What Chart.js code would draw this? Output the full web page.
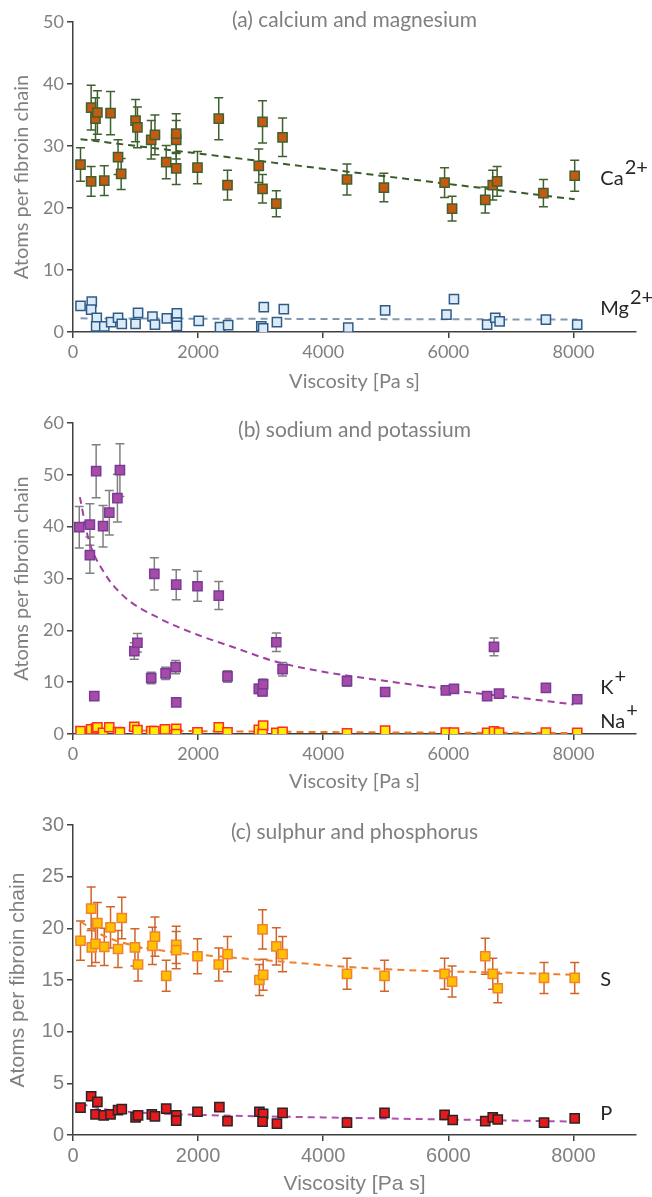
<!DOCTYPE html>
<html>
<head>
<meta charset="utf-8">
<script src="https://cdn.jsdelivr.net/npm/chart.js@4.4.1/dist/chart.umd.min.js"></script>
<style>
  body { margin: 0; background: #fff; }
  .panel { position: absolute; left: 0; }
</style>
</head>
<body>
<div class="panel" style="top:0"><canvas id="chartA" width="652" height="400"></canvas></div>
<div class="panel" style="top:400px"><canvas id="chartB" width="652" height="400"></canvas></div>
<div class="panel" style="top:800px"><canvas id="chartC" width="652" height="397"></canvas></div>
<script>
// ---- data ----
const xTicks = [0, 2000, 4000, 6000, 8000];
const yTicksA = [0, 10, 20, 30, 40, 50];
const yTicksB = [0, 10, 20, 30, 40, 50, 60];
const yTicksC = [0, 5, 10, 15, 20, 25, 30];

// (a) calcium
const caVisc = [120, 290, 290, 360, 390, 500, 600, 720, 770, 1000, 1030, 1250, 1310, 1490, 1650, 1650, 1650, 1990, 2330, 2470, 2970, 3030, 3030, 3250, 3350, 4380, 4970, 5940, 6060, 6590, 6710, 6780, 7520, 8020];
const caValues = [27.0, 36.2, 24.3, 34.4, 35.4, 24.4, 35.3, 28.2, 25.5, 34.1, 33.0, 31.0, 31.8, 27.4, 31.0, 32.0, 26.4, 26.5, 34.4, 23.7, 26.8, 23.1, 33.9, 20.7, 31.4, 24.6, 23.3, 24.1, 19.9, 21.3, 23.7, 24.3, 22.4, 25.2];
const caErrors = [2.7, 3.6, 2.4, 3.4, 3.5, 2.4, 3.5, 2.8, 2.5, 3.4, 3.3, 3.1, 3.2, 2.7, 3.1, 3.2, 2.6, 2.6, 3.4, 2.4, 2.7, 2.3, 3.4, 2.1, 3.1, 2.5, 2.3, 2.4, 2.0, 2.1, 2.4, 2.4, 2.2, 2.5];
const caFitVisc = [120, 8020];
const caFitValues = [31.1, 21.4];

// (a) magnesium
const mgVisc = [120, 300, 290, 380, 370, 500, 610, 720, 780, 1000, 1040, 1270, 1310, 1500, 1660, 1660, 1660, 2010, 2350, 2480, 3010, 3050, 3040, 3260, 3370, 4400, 4990, 5970, 6090, 6620, 6750, 6820, 7560, 8060];
const mgValues = [4.2, 4.9, 3.6, 2.3, 0.9, 0.9, 1.6, 2.3, 1.3, 1.3, 3.1, 2.5, 1.2, 2.2, 3.0, 1.5, 1.0, 1.8, 0.8, 1.1, 0.9, 4.0, 0.6, 1.6, 3.7, 0.7, 3.5, 2.8, 5.3, 1.2, 2.3, 1.7, 2.0, 1.2];
const mgFitVisc = [120, 8060];
const mgFitValues = [2.2, 2.0];

// (b) potassium
const kVisc = [100, 270, 270, 340, 370, 480, 580, 710, 750, 980, 1030, 1250, 1300, 1480, 1640, 1650, 1650, 1990, 2330, 2470, 2970, 3030, 3040, 3250, 3350, 4380, 4990, 5960, 6090, 6620, 6730, 6810, 7560, 8060];
const kValues = [39.9, 40.4, 34.5, 7.3, 50.7, 40.1, 42.7, 45.5, 50.9, 16.0, 17.6, 10.8, 30.9, 11.7, 12.9, 6.1, 28.8, 28.5, 26.7, 11.1, 8.7, 8.2, 9.6, 17.7, 12.5, 10.2, 8.1, 8.4, 8.7, 7.3, 16.8, 7.8, 8.9, 6.7];
const kErrors = [4.0, 4.0, 3.5, 0.3, 5.1, 4.0, 4.3, 4.6, 5.1, 1.6, 1.8, 1.1, 3.1, 1.2, 1.3, 0.3, 2.9, 2.9, 2.7, 1.1, 0.9, 0.8, 1.0, 1.8, 1.3, 1.0, 0.3, 0.3, 0.3, 0.3, 1.7, 0.3, 0.3, 0.3];
const kFitVisc = [110, 250, 480, 800, 1400, 2000, 2600, 3200, 4000, 4600, 5500, 6500, 7200, 8000];
const kFitValues = [45.7, 37.5, 31.5, 26.7, 22.2, 19.1, 16.6, 14.1, 12.0, 10.9, 9.4, 7.8, 6.9, 5.7];

// (b) sodium
const naVisc = [120, 290, 370, 390, 480, 580, 720, 750, 980, 1030, 1250, 1300, 1470, 1650, 1650, 1990, 2330, 2470, 2970, 3040, 3030, 3250, 3350, 4380, 4990, 5960, 6090, 6620, 6730, 6810, 7560, 8060];
const naValues = [0.55, 0.9, 1.1, 1.3, 0.2, 1.3, 0.35, 0.3, 1.4, 0.75, 0.55, 0.55, 0.9, 1.0, 0.0, 0.3, 1.3, 0.3, 0.8, 1.6, 0.0, 0.2, 0.4, 0.15, 0.65, 0.25, 0.25, 0.2, 0.5, 0.25, 0.25, 0.2];
const naFitVisc = [120, 2000, 4400, 8050];
const naFitValues = [0.8, 0.55, 0.35, 0.2];

// (c) sulphur
const sVisc = [120, 290, 300, 360, 390, 500, 600, 720, 780, 990, 1040, 1270, 1310, 1490, 1650, 1650, 1990, 2330, 2470, 2980, 3030, 3040, 3250, 3350, 4380, 4980, 5940, 6060, 6590, 6710, 6790, 7530, 8020];
const sValues = [18.8, 21.9, 18.15, 18.5, 20.5, 18.2, 20.1, 18.0, 21.0, 18.15, 16.5, 18.3, 19.2, 15.4, 18.4, 17.9, 17.3, 16.5, 17.5, 15.0, 19.9, 15.5, 18.25, 17.5, 15.6, 15.4, 15.6, 14.85, 17.3, 15.6, 14.2, 15.2, 15.2];
const sErrors = [1.9, 2.1, 1.8, 1.8, 2.0, 1.8, 2.0, 1.8, 2.0, 1.8, 1.6, 1.8, 1.9, 1.5, 1.8, 1.8, 1.7, 1.6, 1.7, 1.5, 1.9, 1.5, 1.8, 1.7, 1.5, 1.5, 1.5, 1.5, 1.75, 1.5, 1.4, 1.5, 1.5];
const sFitVisc = [120, 300, 600, 1000, 1600, 2500, 3500, 4300, 5600, 7000, 8000];
const sFitValues = [20.7, 19.9, 19.0, 18.3, 17.7, 17.2, 16.7, 16.3, 15.9, 15.7, 15.5];

// (c) phosphorus
const pVisc = [120, 290, 390, 360, 490, 600, 720, 780, 1000, 1040, 1260, 1310, 1490, 1650, 1650, 1990, 2340, 2470, 2980, 3040, 3030, 3260, 3350, 4380, 4980, 5940, 6070, 6590, 6710, 6790, 7530, 8020];
const pValues = [2.65, 3.75, 3.2, 2.0, 1.9, 2.0, 2.4, 2.5, 1.7, 1.9, 2.0, 1.8, 2.55, 1.9, 1.4, 2.25, 2.7, 1.35, 2.25, 2.05, 1.3, 1.1, 2.15, 1.2, 2.15, 1.95, 1.45, 1.35, 1.7, 1.5, 1.2, 1.6];
const pFitVisc = [120, 500, 1000, 2000, 4000, 6000, 8000];
const pFitValues = [3.0, 2.5, 2.2, 1.95, 1.7, 1.5, 1.3];

// ---- helpers ----
function pts(xs, ys) {
  return xs.map((x, i) => ({ x: x, y: ys[i] }));
}

function markers(xs, ys, fill, edge, errs, errColor) {
  return {
    data: pts(xs, ys),
    errors: errs,
    errorColor: errColor,
    pointStyle: 'rect',
    pointRadius: 6.5,
    backgroundColor: fill,
    borderColor: edge,
    borderWidth: 1.5,
    showLine: false,
    order: 1
  };
}

function fitLine(xs, ys, color) {
  return {
    data: pts(xs, ys),
    showLine: true,
    pointRadius: 0,
    borderColor: color,
    borderWidth: 2,
    borderDash: [7, 5],
    cubicInterpolationMode: 'monotone',
    fill: false,
    order: 2
  };
}

const errorBars = {
  id: 'errorBars',
  beforeDatasetsDraw(chart) {
    const ctx = chart.ctx;
    const xs = chart.scales.x, ys = chart.scales.y;
    chart.data.datasets.forEach(ds => {
      if (!ds.errors) return;
      ctx.save();
      ctx.strokeStyle = ds.errorColor;
      ctx.lineWidth = 1.5;
      ds.data.forEach((p, i) => {
        const e = ds.errors[i];
        if (!e) return;
        const px = xs.getPixelForValue(p.x);
        const top = ys.getPixelForValue(p.y + e);
        const bot = ys.getPixelForValue(p.y - e);
        ctx.beginPath();
        ctx.moveTo(px, top); ctx.lineTo(px, bot);
        ctx.moveTo(px - 4.5, top); ctx.lineTo(px + 4.5, top);
        ctx.moveTo(px - 4.5, bot); ctx.lineTo(px + 4.5, bot);
        ctx.stroke();
      });
      ctx.restore();
    });
  }
};

const panelText = {
  id: 'panelText',
  afterDraw(chart, args, opts) {
    const ctx = chart.ctx;
    const area = chart.chartArea;
    ctx.save();
    // panel title
    ctx.font = opts.titleFont;
    ctx.fillStyle = '#7f7f7f';
    ctx.textAlign = 'center';
    ctx.textBaseline = 'middle';
    ctx.fillText(opts.title, (area.left + area.right) / 2, area.top + opts.titleOffset);
    // ion labels
    ctx.textAlign = 'left';
    ctx.textBaseline = 'alphabetic';
    ctx.fillStyle = '#262626';
    ctx.font = '20px Lato';
    opts.labels.forEach(l => {
      const px = chart.scales.x.getPixelForValue(l.x);
      const py = chart.scales.y.getPixelForValue(l.y);
      ctx.fillText(l.text, px, py);
      if (l.sup) ctx.fillText(l.sup, px + ctx.measureText(l.text).width + 1, py - 11);
    });
    ctx.restore();
  }
};

function makePanel(id, cfg) {
  new Chart(document.getElementById(id), {
    type: 'scatter',
    data: { datasets: cfg.datasets },
    plugins: [errorBars, panelText],
    options: {
      responsive: false,
      animation: false,
      devicePixelRatio: 1,
      layout: { padding: { left: 0, right: 16, top: cfg.top, bottom: 0 } },
      plugins: {
        legend: { display: false },
        tooltip: { enabled: false },
        panelText: { title: cfg.title, titleFont: '21px Lato', titleOffset: cfg.titleOffset, labels: cfg.labels }
      },
      scales: {
        x: {
          type: 'linear', min: 0, max: 9000,
          afterBuildTicks: s => { s.ticks = xTicks.map(v => ({ value: v })); },
          afterFit: s => { s.height = cfg.xHeight; },
          grid: { drawOnChartArea: false, tickLength: 6, color: '#404040', lineWidth: 1.5 },
          border: { color: '#404040', width: 1.5 },
          ticks: { color: '#808080', font: cfg.tickFont, padding: 3, maxRotation: 0, callback: v => String(v) },
          title: { display: true, text: 'Viscosity [Pa s]', color: '#808080', font: cfg.xTitleFont, padding: { top: 2, bottom: cfg.xTitlePad } }
        },
        y: {
          type: 'linear', min: 0, max: cfg.yMax,
          afterBuildTicks: s => { s.ticks = cfg.yTicks.map(v => ({ value: v })); },
          afterFit: s => { s.width = 73; },
          grid: { drawOnChartArea: false, tickLength: 6, color: '#404040', lineWidth: 1.5 },
          border: { color: '#404040', width: 1.5 },
          ticks: { color: '#808080', font: cfg.tickFont, padding: 3, callback: v => String(v) },
          title: { display: true, text: 'Atoms per fibroin chain', color: '#808080', font: cfg.yTitleFont, padding: { top: cfg.yTitlePad, bottom: 0 } }
        }
      }
    }
  });
}

const calibriLike = { family: 'Lato', size: 18 };

makePanel('chartA', {
  title: '(a) calcium and magnesium', titleOffset: -2, top: 22, xHeight: 68, yMax: 50, yTicks: yTicksA,
  tickFont: calibriLike, xTitleFont: { family: 'Lato', size: 20 }, yTitleFont: { family: 'Lato', size: 20 },
  xTitlePad: 6, yTitlePad: 10,
  labels: [
    { text: 'Ca', sup: '2+', x: 8430, y: 23.7 },
    { text: 'Mg', sup: '2+', x: 8430, y: 2.8 }
  ],
  datasets: [
    markers(caVisc, caValues, '#c55a11', '#3f6130', caErrors, '#3f6130'),
    markers(mgVisc, mgValues, '#ddebf7', '#2e5c8a'),
    fitLine(caFitVisc, caFitValues, '#3a5a28'),
    fitLine(mgFitVisc, mgFitValues, '#8497b0')
  ]
});

makePanel('chartB', {
  title: '(b) sodium and potassium', titleOffset: 7, top: 23, xHeight: 66, yMax: 60, yTicks: yTicksB,
  tickFont: calibriLike, xTitleFont: { family: 'Lato', size: 20 }, yTitleFont: { family: 'Lato', size: 20 },
  xTitlePad: 6, yTitlePad: 10,
  labels: [
    { text: 'K', sup: '+', x: 8430, y: 7.8 },
    { text: 'Na', sup: '+', x: 8430, y: 1.1 }
  ],
  datasets: [
    markers(kVisc, kValues, '#a64ca6', '#7a3a9a', kErrors, '#808080'),
    markers(naVisc, naValues, '#ffee00', '#ff2a2a'),
    fitLine(kFitVisc, kFitValues, '#a040a0'),
    fitLine(naFitVisc, naFitValues, '#f07820')
  ]
});

makePanel('chartC', {
  title: '(c) sulphur and phosphorus', titleOffset: 7, top: 25, xHeight: 62, yMax: 30, yTicks: yTicksC,
  tickFont: { family: 'Liberation Sans', size: 20 }, xTitleFont: { family: 'Liberation Sans', size: 21 }, yTitleFont: { family: 'Liberation Sans', size: 21 },
  xTitlePad: 0, yTitlePad: 6,
  labels: [
    { text: 'S', x: 8430, y: 14.4 },
    { text: 'P', x: 8430, y: 1.5 }
  ],
  datasets: [
    markers(sVisc, sValues, '#ffc000', '#f08232', sErrors, '#d0642a'),
    markers(pVisc, pValues, '#e8191c', '#262626'),
    fitLine(sFitVisc, sFitValues, '#f08030'),
    fitLine(pFitVisc, pFitValues, '#b050b0')
  ]
});
</script>
</body>
</html>
